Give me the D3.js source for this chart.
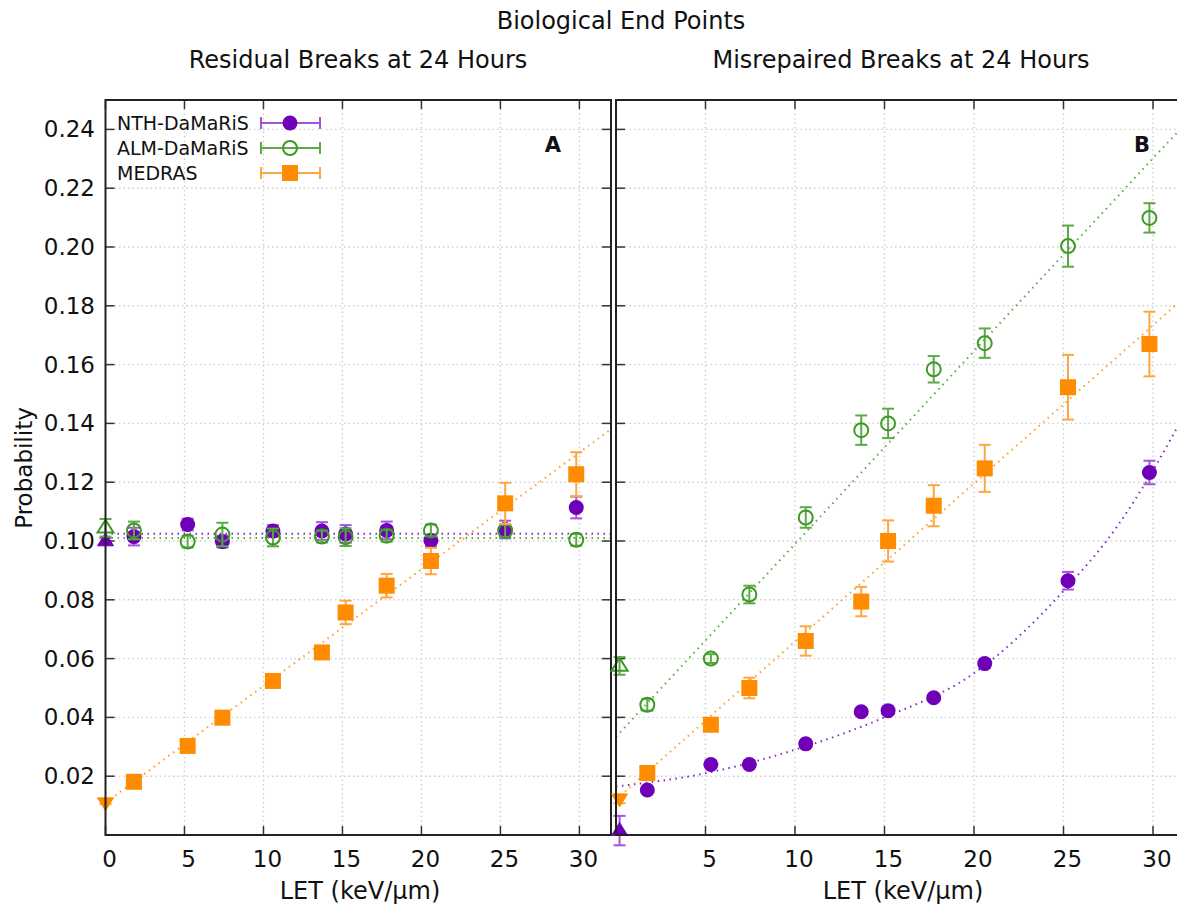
<!DOCTYPE html>
<html>
<head>
<meta charset="utf-8">
<script src="https://cdn.jsdelivr.net/npm/d3@7"></script>
<style>
  body { margin: 0; background: #fff; }
  svg text { font-family: "DejaVu Sans", sans-serif; fill: #111; }
</style>
</head>
<body>
<div id="chart"></div>
<script>
// ---- data ----
const seriesNames = ["NTH-DaMaRiS", "ALM-DaMaRiS", "MEDRAS"];
const seriesColors = ["#7000b8", "#3d9a25", "#ff8c00"];
const barColors = ["#a454dc", "#5aab45", "#ffa640"];

const yTicks = [0.02, 0.04, 0.06, 0.08, 0.10, 0.12, 0.14, 0.16, 0.18, 0.20, 0.22, 0.24];
const xTicksA = [0, 5, 10, 15, 20, 25, 30];
const xTicksB = [5, 10, 15, 20, 25, 30];

// Panel A: residual breaks
const letA = [1.8, 5.2, 7.4, 10.6, 13.7, 15.2, 17.8, 20.6, 25.3, 29.8];
const nthA = [0.1015, 0.1056, 0.0998, 0.1034, 0.1034, 0.1024, 0.1036, 0.1002, 0.1039, 0.1114];
const nthAErr = [0.003, 0.002, 0.002, 0.002, 0.003, 0.003, 0.003, 0.002, 0.003, 0.0037];
const almA = [0.1036, 0.0998, 0.1022, 0.1012, 0.1015, 0.1013, 0.1018, 0.1036, 0.1034, 0.1004];
const almAErr = [0.003, 0.002, 0.004, 0.003, 0.002, 0.003, 0.002, 0.002, 0.002, 0.002];
const medA = [0.0181, 0.0303, 0.0399, 0.0524, 0.0621, 0.0757, 0.0848, 0.0932, 0.1128, 0.1227];
const medAErr = [0.001, 0.001, 0.001, 0.002, 0.002, 0.004, 0.004, 0.0045, 0.007, 0.0075];

// Panel B: misrepaired breaks
const letB = [1.75, 5.3, 7.45, 10.6, 13.7, 15.2, 17.75, 20.6, 25.25, 29.8];
const nthB = [0.0153, 0.024, 0.024, 0.031, 0.0419, 0.0423, 0.0467, 0.0583, 0.0865, 0.1233];
const nthBErr = [0.001, 0.001, 0.001, 0.001, 0.001, 0.001, 0.001, 0.0015, 0.003, 0.004];
const almB = [0.0443, 0.060, 0.0818, 0.108, 0.1377, 0.140, 0.1584, 0.1673, 0.2003, 0.2099];
const almBErr = [0.002, 0.0015, 0.003, 0.0035, 0.005, 0.005, 0.0045, 0.005, 0.007, 0.005];
const medB = [0.0211, 0.0375, 0.050, 0.066, 0.0794, 0.100, 0.112, 0.1247, 0.1523, 0.167];
const medBErr = [0.001, 0.0015, 0.0035, 0.005, 0.005, 0.007, 0.007, 0.008, 0.011, 0.011];

// zero-LET reference points (triangles)
const zeroA = [0.1000, 0.1045, 0.0110];
const zeroAErr = [0.001, 0.003, 0.0005];
const zeroB = [0.0015, 0.0575, 0.0123];
const zeroBErr = [0.005, 0.003, 0.0015];
const zeroXA = 0;
const zeroXB = 0.2;

// fitted curves
const fitXA = [0, 32];
const fitNthA = [0.1025, 0.1025];
const fitAlmA = [0.1010, 0.1010];
const fitMedA = [0.0110, 0.1380];
const fitXB = [0, 5, 10, 15, 20, 25, 28, 30, 32];
const fitNthB = [0.0165, 0.021, 0.029, 0.040, 0.055, 0.083, 0.105, 0.124, 0.146];
const fitAlmB = [0.0334, 0.0662, 0.099, 0.1318, 0.1646, 0.1974, 0.217, 0.2302, 0.243];
const fitMedB = [0.0120, 0.0389, 0.0658, 0.0927, 0.1196, 0.1465, 0.1626, 0.1734, 0.1842];

const W = 1177, H = 906;
const TOP = 100, BOTTOM = 835;

const svg = d3.select("#chart").append("svg")
    .attr("width", W)
    .attr("height", H);

const y = d3.scaleLinear().domain([0, 0.25]).range([BOTTOM, TOP]);

// Main title
svg.append("text").attr("x", 621).attr("y", 29)
    .attr("text-anchor", "middle").style("font-size", "24px")
    .text("Biological End Points");

function drawPanel(opt) {
    const x = d3.scaleLinear().domain([0, 32]).range([opt.left, opt.right]);
    const g = svg.append("g");
    const clipId = "clip" + opt.label;

    svg.append("clipPath").attr("id", clipId)
        .append("rect")
        .attr("x", opt.left).attr("y", TOP)
        .attr("width", opt.right - opt.left).attr("height", BOTTOM - TOP);

    // grid
    g.selectAll(".vgrid").data(xTicksA.filter(d => d > 0)).enter().append("line")
        .attr("x1", d => x(d)).attr("x2", d => x(d))
        .attr("y1", TOP).attr("y2", BOTTOM)
        .attr("stroke", "#cfcfcf").attr("stroke-width", 1.4)
        .attr("stroke-dasharray", "1.5,3");
    g.selectAll(".hgrid").data(yTicks).enter().append("line")
        .attr("x1", opt.left).attr("x2", opt.right)
        .attr("y1", d => y(d)).attr("y2", d => y(d))
        .attr("stroke", "#cfcfcf").attr("stroke-width", 1.4)
        .attr("stroke-dasharray", "1.5,3");

    // ticks (inward, mirrored)
    const tickLen = 9;
    g.selectAll(".tb").data(xTicksA).enter().append("line")
        .attr("x1", d => x(d)).attr("x2", d => x(d))
        .attr("y1", BOTTOM).attr("y2", BOTTOM - tickLen)
        .attr("stroke", "#333").attr("stroke-width", 1.5);
    g.selectAll(".tt").data(xTicksA).enter().append("line")
        .attr("x1", d => x(d)).attr("x2", d => x(d))
        .attr("y1", TOP).attr("y2", TOP + tickLen)
        .attr("stroke", "#333").attr("stroke-width", 1.5);
    g.selectAll(".tl").data(yTicks).enter().append("line")
        .attr("x1", opt.left).attr("x2", opt.left + tickLen)
        .attr("y1", d => y(d)).attr("y2", d => y(d))
        .attr("stroke", "#333").attr("stroke-width", 1.5);
    g.selectAll(".tr").data(yTicks).enter().append("line")
        .attr("x1", opt.right).attr("x2", opt.right - tickLen)
        .attr("y1", d => y(d)).attr("y2", d => y(d))
        .attr("stroke", "#333").attr("stroke-width", 1.5);

    // x tick labels
    g.selectAll(".xl").data(opt.xTicks).enter().append("text")
        .attr("x", d => x(d) + 4).attr("y", 867)
        .attr("text-anchor", "middle").style("font-size", "23px")
        .text(d => d);

    // titles
    g.append("text").attr("x", opt.titleX).attr("y", 68)
        .attr("text-anchor", "middle").style("font-size", "24px")
        .text(opt.title);
    g.append("text").attr("x", opt.titleX + 2).attr("y", 899)
        .attr("text-anchor", "middle").style("font-size", "24px")
        .text("LET (keV/μm)");

    // fits
    const fits = g.append("g").attr("clip-path", `url(#${clipId})`);
    opt.fits.forEach((fy, i) => {
        const pts = opt.fitX.map((xv, j) => [xv, fy[j]]);
        fits.append("path")
            .attr("d", d3.line().x(d => x(d[0])).y(d => y(d[1])).curve(d3.curveMonotoneX)(pts))
            .attr("fill", "none")
            .attr("stroke", seriesColors[i])
            .attr("stroke-width", 2)
            .attr("stroke-dasharray", "1.5,4.5")
            .attr("opacity", 0.85);
    });

    // points with error bars
    opt.vals.forEach((vals, i) => {
        const pts = opt.let.map((xv, j) => ({ x: xv, v: vals[j], e: opt.errs[i][j] }));
        pts.push({ x: opt.zeroX, v: opt.zero[i], e: opt.zeroErr[i], zero: true });
        const sg = g.append("g");
        const cap = 6;
        pts.forEach(p => {
            const px = x(p.x);
            sg.append("line")
                .attr("x1", px).attr("x2", px)
                .attr("y1", y(p.v - p.e)).attr("y2", y(p.v + p.e))
                .attr("stroke", barColors[i]).attr("stroke-width", 2);
            [p.v - p.e, p.v + p.e].forEach(ev => {
                sg.append("line")
                    .attr("x1", px - cap).attr("x2", px + cap)
                    .attr("y1", y(ev)).attr("y2", y(ev))
                    .attr("stroke", barColors[i]).attr("stroke-width", 2);
            });
            drawMarker(sg, i, px, y(p.v), p.zero);
        });
    });

    // frame
    g.append("rect")
        .attr("x", opt.left).attr("y", TOP)
        .attr("width", opt.right - opt.left).attr("height", BOTTOM - TOP)
        .attr("fill", "none").attr("stroke", "#222").attr("stroke-width", 2);

    // panel letter
    g.append("text").attr("x", opt.letterX).attr("y", 152)
        .attr("text-anchor", "middle").style("font-size", "21px")
        .style("font-weight", "bold").text(opt.label);
    return x;
}

function drawMarker(sel, i, px, py, zero) {
    const c = seriesColors[i];
    if (zero) {
        // triangles at zero LET
        const s = 8;
        const pts = i === 2
            ? [[px - s, py - s * 0.6], [px + s, py - s * 0.6], [px, py + s]]
            : [[px - s, py + s * 0.6], [px + s, py + s * 0.6], [px, py - s]];
        sel.append("polygon").attr("points", pts.map(p => p.join(",")).join(" "))
            .attr("fill", i === 1 ? "none" : c)
            .attr("stroke", c).attr("stroke-width", i === 1 ? 2 : 1);
        return;
    }
    if (i === 0) {
        sel.append("circle").attr("cx", px).attr("cy", py).attr("r", 7.5).attr("fill", c);
    } else if (i === 1) {
        sel.append("circle").attr("cx", px).attr("cy", py).attr("r", 7)
            .attr("fill", "none").attr("stroke", c).attr("stroke-width", 2);
    } else {
        sel.append("rect").attr("x", px - 8).attr("y", py - 8)
            .attr("width", 16).attr("height", 16).attr("fill", c);
    }
}

drawPanel({
    label: "A", left: 105.5, right: 611, titleX: 358, letterX: 553,
    title: "Residual Breaks at 24 Hours",
    xTicks: xTicksA, let: letA,
    vals: [nthA, almA, medA], errs: [nthAErr, almAErr, medAErr],
    zero: zeroA, zeroErr: zeroAErr, zeroX: zeroXA,
    fitX: fitXA, fits: [fitNthA, fitAlmA, fitMedA]
});
drawPanel({
    label: "B", left: 616, right: 1188.8, titleX: 901, letterX: 1142,
    title: "Misrepaired Breaks at 24 Hours",
    xTicks: xTicksB, let: letB,
    vals: [nthB, almB, medB], errs: [nthBErr, almBErr, medBErr],
    zero: zeroB, zeroErr: zeroBErr, zeroX: zeroXB,
    fitX: fitXB, fits: [fitNthB, fitAlmB, fitMedB]
});

// y tick labels and label
svg.selectAll(".yl").data(yTicks).enter().append("text")
    .attr("x", 95).attr("y", d => y(d) + 8)
    .attr("text-anchor", "end").style("font-size", "23px")
    .text(d3.format(".2f"));
svg.append("text")
    .attr("transform", "translate(32,468) rotate(-90)")
    .attr("text-anchor", "middle").style("font-size", "23px")
    .text("Probability");

// legend
const legend = svg.append("g");
seriesNames.forEach((name, i) => {
    const ly = 123 + i * 25;
    legend.append("text").attr("x", 117).attr("y", ly + 7)
        .style("font-size", "19px").text(name);
    legend.append("line").attr("x1", 261).attr("x2", 320)
        .attr("y1", ly).attr("y2", ly)
        .attr("stroke", barColors[i]).attr("stroke-width", 2);
    [261, 320].forEach(cx => {
        legend.append("line").attr("x1", cx).attr("x2", cx)
            .attr("y1", ly - 6).attr("y2", ly + 6)
            .attr("stroke", barColors[i]).attr("stroke-width", 2);
    });
    drawMarker(legend, i, 290, ly, false);
});
</script>
</body>
</html>
